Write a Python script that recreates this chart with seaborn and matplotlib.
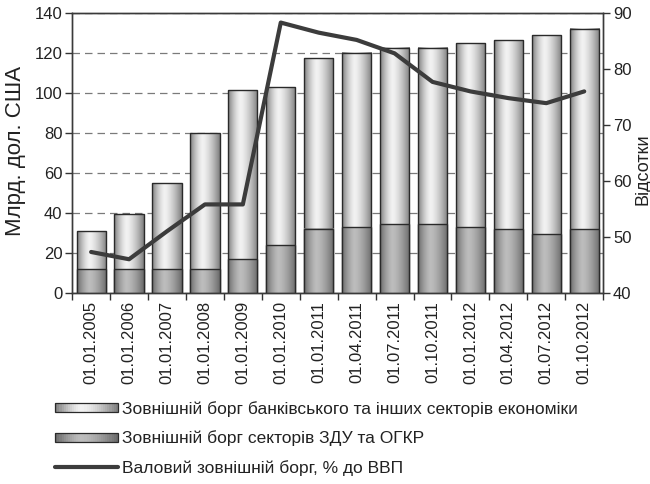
import numpy as np
import pandas as pd
import matplotlib
matplotlib.use("Agg")
import matplotlib.pyplot as plt
import seaborn as sns
from matplotlib.legend_handler import HandlerBase
from matplotlib.patches import Rectangle
from matplotlib.lines import Line2D

# Reporting dates
dates = ["01.01.2005", "01.01.2006", "01.01.2007", "01.01.2008", "01.01.2009",
         "01.01.2010", "01.01.2011", "01.04.2011", "01.07.2011", "01.10.2011",
         "01.01.2012", "01.04.2012", "01.07.2012", "01.10.2012"]
# External debt of general government and the central bank, bn USD
state_debt = [11.8, 11.8, 11.8, 11.8, 16.8, 23.8, 32.1, 33.0, 34.2, 34.2,
              33.0, 31.7, 29.4, 31.7]
# External debt of banks and other sectors, bn USD
other_debt = [19.2, 27.7, 43.2, 68.2, 84.7, 79.0, 85.2, 87.2, 88.5, 88.5,
              91.9, 94.7, 99.5, 100.5]
# Gross external debt, % of GDP
gdp_share = [47.3, 46.0, 51.0, 55.8, 55.8, 88.3, 86.5, 85.2, 82.8, 77.7,
             76.0, 74.8, 73.9, 76.0]

label_other = "Зовнішній борг банківського та інших секторів економіки"
label_state = "Зовнішній борг секторів ЗДУ та ОГКР"
label_gdp = "Валовий зовнішній борг, % до ВВП"

sns.set_theme(style="white")
plt.rcParams["font.family"] = ["Liberation Sans", "DejaVu Sans"]
text_col = "#222222"
edge_col = "#2a2a2a"

fig = plt.figure(figsize=(6.5, 4.84), dpi=100)
ax = fig.add_axes([0.111, 0.395, 0.817, 0.578])

df = pd.DataFrame({"date": dates,
                   "total": np.add(state_debt, other_debt),
                   "state": state_debt})

sns.barplot(data=df, x="date", y="total", color="#dddddd", width=0.77,
            edgecolor=edge_col, linewidth=1, saturation=1, errorbar=None, ax=ax)
n_top = len(ax.patches)
sns.barplot(data=df, x="date", y="state", color="#999999", width=0.77,
            edgecolor=edge_col, linewidth=1, saturation=1, errorbar=None, ax=ax)


def shade(edge, center, n=64, peak=0.42):
    t = np.linspace(0, 1, n)
    d = np.where(t < peak, (peak - t) / peak, (t - peak) / (1 - peak))
    v = center - (center - edge) * d ** 1.5
    return np.dstack([v, v, v])


top_grad = shade(0.50, 0.95)
bottom_grad = shade(0.42, 0.74)

# Cylinder-like horizontal shading on each bar segment
for i, p in enumerate(ax.patches):
    x0, y0 = p.get_x(), p.get_y()
    w, h = p.get_width(), p.get_height()
    base_z = 2 if i < n_top else 3
    grad = top_grad if i < n_top else bottom_grad
    ax.imshow(grad, extent=(x0, x0 + w, y0, y0 + h), aspect="auto",
              interpolation="bilinear", zorder=base_z - 0.05)
    p.set_facecolor("none")
    p.set_zorder(base_z)

ax.set_xlim(-0.5, len(dates) - 0.5)
ax.set_ylim(0, 140)
ax.set_yticks(range(0, 141, 20))
ax.set_axisbelow(True)
ax.yaxis.grid(True, linestyle=(0, (6, 4)), color="#7a7a7a", linewidth=0.9)
ax.xaxis.grid(False)

ax.set_xticks(range(len(dates)))
ax.set_xticklabels(dates, rotation=90)
ax.set_xticks(np.arange(-0.5, len(dates), 1), minor=True)
ax.tick_params(axis="x", which="major", length=0, labelsize=12, pad=6,
               labelcolor=text_col)
ax.tick_params(axis="x", which="minor", bottom=True, direction="out",
               length=5, width=1, color="#333333")
ax.tick_params(axis="y", left=True, direction="out", length=5, width=1,
               color="#333333", labelsize=12, pad=2, labelcolor=text_col)
ax.set_xlabel("")
ax.set_ylabel("Млрд. дол. США", fontsize=16, color=text_col)
ax.yaxis.set_label_coords(-0.0866, 0.507)

for s in ax.spines.values():
    s.set_color("#3a3a3a")
    s.set_linewidth(1)

ax2 = ax.twinx()
sns.lineplot(x=np.arange(len(dates)), y=gdp_share, ax=ax2, color="#3c3c3c",
             linewidth=3, sort=False)
ax2.set_ylim(40, 90)
ax2.set_yticks(range(40, 91, 10))
ax2.grid(False)
ax2.tick_params(axis="y", right=True, direction="out", length=5, width=1,
                color="#333333", labelsize=12, pad=2, labelcolor=text_col)
ax2.set_ylabel("Відсотки", fontsize=13, color=text_col)
ax2.yaxis.set_label_coords(1.058, 0.443)
ax2.set_xlim(-0.5, len(dates) - 0.5)
for s in ax2.spines.values():
    s.set_color("#3a3a3a")
    s.set_linewidth(1)


class GradientHandler(HandlerBase):
    def __init__(self, edge, center):
        super().__init__()
        self.edge = edge
        self.center = center

    def create_artists(self, legend, orig_handle, xdescent, ydescent,
                       width, height, fontsize, trans):
        n = 30
        vals = shade(self.edge, self.center, n=n)[0, :, 0]
        x0, y0 = -xdescent, -ydescent + height * 0.15
        hh = height * 0.7
        arts = []
        for k, v in enumerate(vals):
            arts.append(Rectangle((x0 + k * width / n, y0), width / n + 0.3, hh,
                                  facecolor=(v, v, v), edgecolor="none",
                                  transform=trans))
        arts.append(Rectangle((x0, y0), width, hh, fill=False,
                              edgecolor=edge_col, linewidth=0.9,
                              transform=trans))
        return arts


h_other = Rectangle((0, 0), 1, 1)
h_state = Rectangle((0, 0), 1, 1)
h_gdp = Line2D([], [], color="#3c3c3c", linewidth=3)

fig.legend([h_other, h_state, h_gdp], [label_other, label_state, label_gdp],
           handler_map={h_other: GradientHandler(0.50, 0.95),
                        h_state: GradientHandler(0.42, 0.74)},
           loc="upper left", bbox_to_anchor=(0.085, 0.172), frameon=False,
           fontsize=12.5, handlelength=3.6, handleheight=0.7,
           handletextpad=0.25, labelspacing=0.8, borderpad=0,
           borderaxespad=0, labelcolor=text_col)

fig.savefig("out.png", dpi=100)
